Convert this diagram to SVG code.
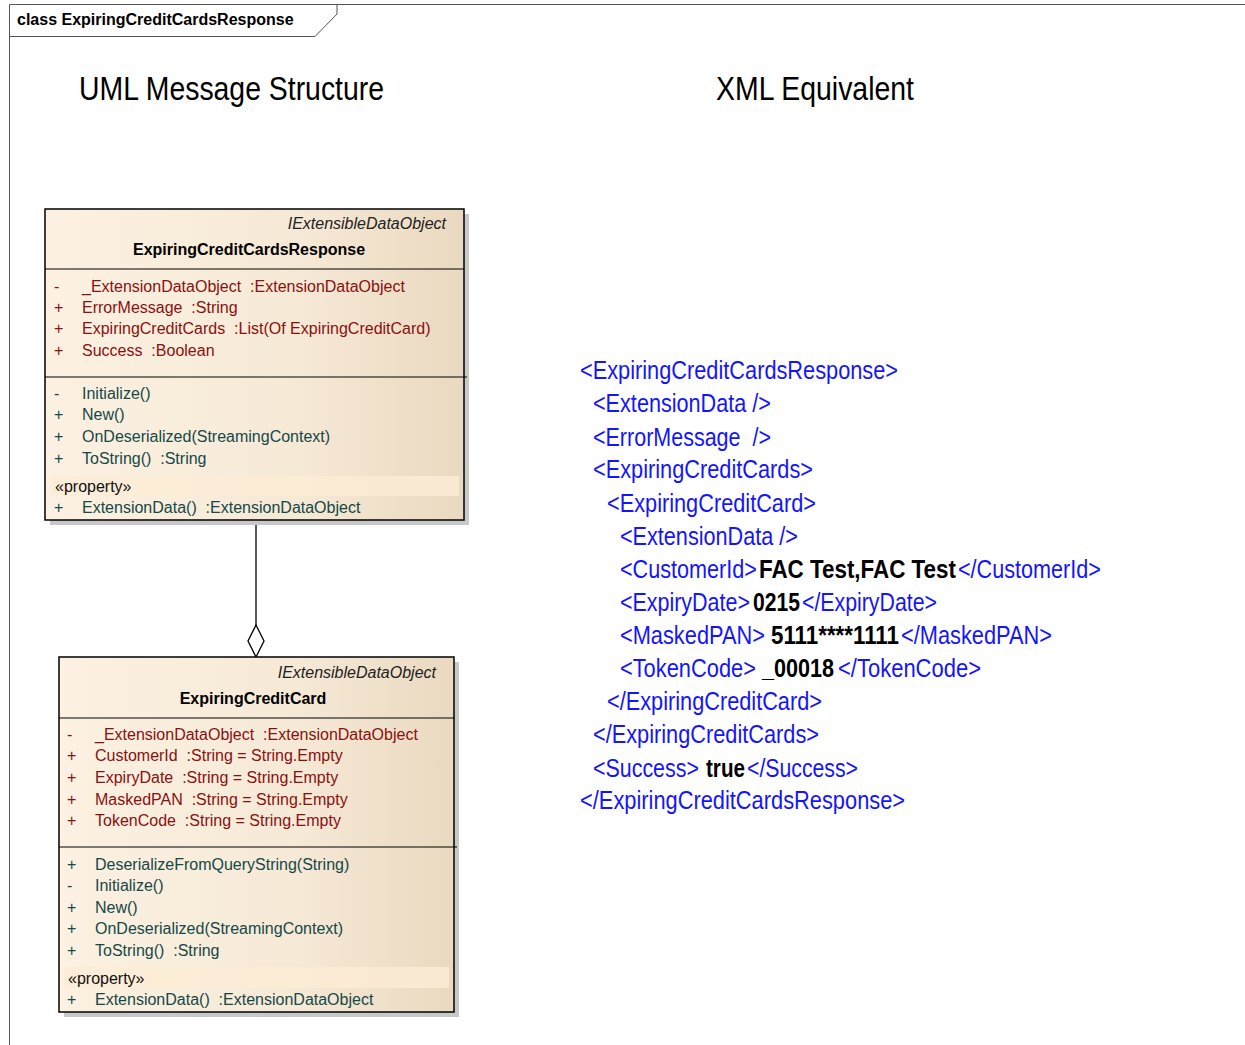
<svg xmlns="http://www.w3.org/2000/svg" width="1245" height="1045" viewBox="0 0 1245 1045">
  <defs>
    <linearGradient id="classFill" x1="0" y1="0" x2="1" y2="0">
      <stop offset="0" stop-color="#fcf1e2"/>
      <stop offset="0.6" stop-color="#f6e9d6"/>
      <stop offset="1" stop-color="#ead9c0"/>
    </linearGradient>
    <style>
      .frame { fill: none; stroke: #555; stroke-width: 1; }
      .box { fill: url(#classFill); stroke: #000; stroke-width: 1.5; }
      .shadow { fill: #c8c8c8; }
      .sep { stroke: #000; stroke-width: 1.2; }
      .band { fill: #fcecd6; opacity: 0.8; }
      .ui { font-family: "Liberation Sans", Arial, sans-serif; font-size: 16px; }
      .stereo { font-style: italic; fill: #222; }
      .cname { font-weight: bold; fill: #000; }
      .attr { fill: #8b1010; }
      .meth { fill: #154848; }
      .prop { fill: #111; }
      .title { font-family: "Liberation Sans", Arial, sans-serif; font-size: 33px; fill: #000; }
      .xml { font-family: "Liberation Sans", Arial, sans-serif; font-size: 25px; fill: #1414ff; }
      .val { fill: #000; font-weight: bold; }
      .conn { stroke: #000; stroke-width: 1.3; fill: none; }
    </style>
  </defs>

  <!-- diagram frame with name tab -->
  <g id="frame">
    <path class="frame" d="M9.5,1045 V4.5 H1245"/>
    <path class="frame" d="M9.5,36.5 H315 L337,14 V4.5"/>
    <text x="17" y="25" font-family="Liberation Sans, Arial, sans-serif" font-size="16" font-weight="bold">class ExpiringCreditCardsResponse</text>
  </g>

  <text class="title" x="79" y="100" textLength="305" lengthAdjust="spacingAndGlyphs">UML Message Structure</text>
  <text class="title" x="716" y="100" textLength="198" lengthAdjust="spacingAndGlyphs">XML Equivalent</text>

  <!-- aggregation between the two classes -->
  <g id="connectors">
    <line class="conn" x1="256" y1="520" x2="256" y2="625"/>
    <path d="M256,625 L264,641 L256,657 L248,641 Z" fill="#fff" stroke="#000" stroke-width="1.3"/>
  </g>

  <!-- class ExpiringCreditCardsResponse -->
  <g id="ExpiringCreditCardsResponse" class="ui">
    <rect class="shadow" x="50" y="214" width="419" height="311"/>
    <rect class="box" x="45" y="209" width="419" height="311"/>
    <text class="stereo" x="446" y="229" text-anchor="end">IExtensibleDataObject</text>
    <text class="cname" x="249" y="255" text-anchor="middle">ExpiringCreditCardsResponse</text>
    <line class="sep" x1="45" y1="269" x2="464" y2="269"/>
    <g class="attr">
      <text x="54" y="292">-</text><text x="82" y="292">_ExtensionDataObject&#160; :ExtensionDataObject</text>
      <text x="54" y="313">+</text><text x="82" y="313">ErrorMessage&#160; :String</text>
      <text x="54" y="334">+</text><text x="82" y="334">ExpiringCreditCards&#160; :List(Of ExpiringCreditCard)</text>
      <text x="54" y="356">+</text><text x="82" y="356">Success&#160; :Boolean</text>
    </g>
    <line class="sep" x1="45" y1="377" x2="467" y2="377"/>
    <g class="meth">
      <text x="54" y="399">-</text><text x="82" y="399">Initialize()</text>
      <text x="54" y="420">+</text><text x="82" y="420">New()</text>
      <text x="54" y="442">+</text><text x="82" y="442">OnDeserialized(StreamingContext)</text>
      <text x="54" y="464">+</text><text x="82" y="464">ToString()&#160; :String</text>
    </g>
    <rect class="band" x="50" y="476" width="409" height="20"/>
    <text class="prop" x="55" y="492">«property»</text>
    <g class="meth">
      <text x="54" y="513">+</text><text x="82" y="513">ExtensionData()&#160; :ExtensionDataObject</text>
    </g>
  </g>

  <!-- class ExpiringCreditCard -->
  <g id="ExpiringCreditCard" class="ui">
    <rect class="shadow" x="64" y="662" width="395" height="355"/>
    <rect class="box" x="59" y="657" width="395" height="355"/>
    <text class="stereo" x="436" y="678" text-anchor="end">IExtensibleDataObject</text>
    <text class="cname" x="253" y="704" text-anchor="middle">ExpiringCreditCard</text>
    <line class="sep" x1="59" y1="718" x2="454" y2="718"/>
    <g class="attr">
      <text x="67" y="740">-</text><text x="95" y="740">_ExtensionDataObject&#160; :ExtensionDataObject</text>
      <text x="67" y="761">+</text><text x="95" y="761">CustomerId&#160; :String = String.Empty</text>
      <text x="67" y="783">+</text><text x="95" y="783">ExpiryDate&#160; :String = String.Empty</text>
      <text x="67" y="805">+</text><text x="95" y="805">MaskedPAN&#160; :String = String.Empty</text>
      <text x="67" y="826">+</text><text x="95" y="826">TokenCode&#160; :String = String.Empty</text>
    </g>
    <line class="sep" x1="59" y1="847" x2="457" y2="847"/>
    <g class="meth">
      <text x="67" y="870">+</text><text x="95" y="870">DeserializeFromQueryString(String)</text>
      <text x="67" y="891">-</text><text x="95" y="891">Initialize()</text>
      <text x="67" y="913">+</text><text x="95" y="913">New()</text>
      <text x="67" y="934">+</text><text x="95" y="934">OnDeserialized(StreamingContext)</text>
      <text x="67" y="956">+</text><text x="95" y="956">ToString()&#160; :String</text>
    </g>
    <rect class="band" x="64" y="967" width="385" height="21"/>
    <text class="prop" x="68" y="984">«property»</text>
    <g class="meth">
      <text x="67" y="1005">+</text><text x="95" y="1005">ExtensionData()&#160; :ExtensionDataObject</text>
    </g>
  </g>

  <!-- XML rendering of the same message, horizontally condensed -->
  <g id="xml-sample" class="xml" transform="scale(0.87,1)">
    <text x="666.7" y="379" textLength="365.5" lengthAdjust="spacingAndGlyphs">&lt;ExpiringCreditCardsResponse&gt;</text>
    <text x="681.6" y="412" textLength="204.6" lengthAdjust="spacingAndGlyphs">&lt;ExtensionData /&gt;</text>
    <text x="681.6" y="446" textLength="204.6" lengthAdjust="spacingAndGlyphs">&lt;ErrorMessage&#160; /&gt;</text>
    <text x="681.6" y="478" textLength="252.9" lengthAdjust="spacingAndGlyphs">&lt;ExpiringCreditCards&gt;</text>
    <text x="697.7" y="512" textLength="240.2" lengthAdjust="spacingAndGlyphs">&lt;ExpiringCreditCard&gt;</text>
    <text x="712.6" y="545" textLength="204.6" lengthAdjust="spacingAndGlyphs">&lt;ExtensionData /&gt;</text>

    <text x="712.6" y="578" textLength="157.5" lengthAdjust="spacingAndGlyphs">&lt;CustomerId&gt;</text>
    <text class="val" x="872.4" y="578" textLength="226.4" lengthAdjust="spacingAndGlyphs">FAC Test,FAC Test</text>
    <text x="1101.1" y="578" textLength="164.4" lengthAdjust="spacingAndGlyphs">&lt;/CustomerId&gt;</text>

    <text x="712.6" y="611" textLength="149.4" lengthAdjust="spacingAndGlyphs">&lt;ExpiryDate&gt;</text>
    <text class="val" x="865.5" y="611" textLength="54" lengthAdjust="spacingAndGlyphs">0215</text>
    <text x="921.8" y="611" textLength="155.2" lengthAdjust="spacingAndGlyphs">&lt;/ExpiryDate&gt;</text>

    <text x="712.6" y="644" textLength="166.7" lengthAdjust="spacingAndGlyphs">&lt;MaskedPAN&gt;</text>
    <text class="val" x="886.2" y="644" textLength="147.1" lengthAdjust="spacingAndGlyphs">5111****1111</text>
    <text x="1035.6" y="644" textLength="173.6" lengthAdjust="spacingAndGlyphs">&lt;/MaskedPAN&gt;</text>

    <text x="712.6" y="677" textLength="156.3" lengthAdjust="spacingAndGlyphs">&lt;TokenCode&gt;</text>
    <text class="val" x="875.9" y="677" textLength="82.8" lengthAdjust="spacingAndGlyphs">_00018</text>
    <text x="963.2" y="677" textLength="164.4" lengthAdjust="spacingAndGlyphs">&lt;/TokenCode&gt;</text>

    <text x="697.7" y="710" textLength="247.1" lengthAdjust="spacingAndGlyphs">&lt;/ExpiringCreditCard&gt;</text>
    <text x="681.6" y="743" textLength="259.8" lengthAdjust="spacingAndGlyphs">&lt;/ExpiringCreditCards&gt;</text>

    <text x="681.6" y="777" textLength="121.8" lengthAdjust="spacingAndGlyphs">&lt;Success&gt;</text>
    <text class="val" x="811.5" y="777" textLength="44.8" lengthAdjust="spacingAndGlyphs">true</text>
    <text x="858.6" y="777" textLength="127.6" lengthAdjust="spacingAndGlyphs">&lt;/Success&gt;</text>

    <text x="666.7" y="809" textLength="373.6" lengthAdjust="spacingAndGlyphs">&lt;/ExpiringCreditCardsResponse&gt;</text>
  </g>
</svg>
